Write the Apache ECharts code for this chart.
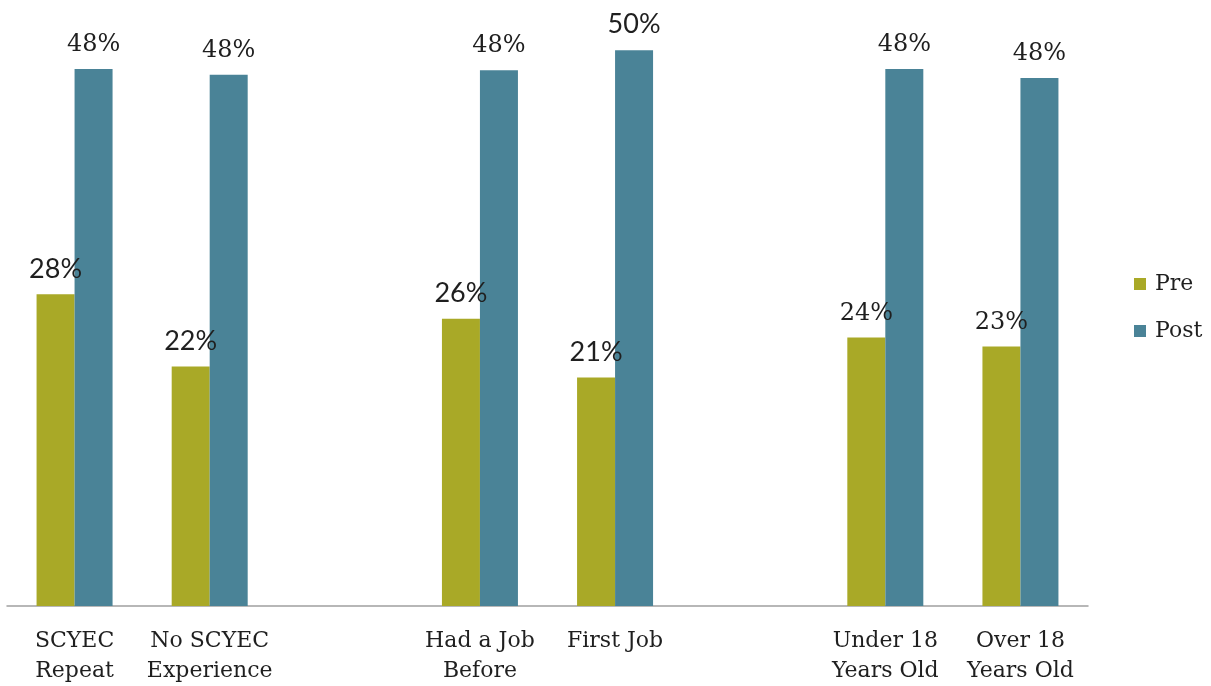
<!DOCTYPE html>
<html>
<head>
<meta charset="utf-8">
<script src="https://cdn.jsdelivr.net/npm/echarts@6/dist/echarts.min.js"></script>
<style>
html,body{margin:0;padding:0;background:#fff;}
#chart{width:1211px;height:686px;}
</style>
</head>
<body>
<div id="chart"></div>
<script>
// Categories (blank slots separate the three groups)
const categories = ['SCYEC\nRepeat', 'No SCYEC\nExperience', '', 'Had a Job\nBefore', 'First Job', '', 'Under 18\nYears Old', 'Over 18\nYears Old'];
const seriesNames = ['Pre', 'Post'];
// Values in percent (null = empty slot)
const preValues  = [28.1, 21.6, null, 25.9, 20.6, null, 24.2, 23.4];
const postValues = [48.4, 47.9, null, 48.3, 50.1, null, 48.4, 47.6];

// label font families per slot (reference mixes a sans and a serif face)
const SERIF = "'DejaVu Serif', serif";
const SANS = "Lato, 'Liberation Sans', sans-serif";
const preLabelSans  = [true, true, false, true, true, false, false, false];
const postLabelSans = [false, false, false, false, true, false, false, false];

function buildData(values, sansFlags) {
  return values.map((v, i) => {
    if (v === null) return '-';
    const sans = sansFlags[i];
    return {
      value: v,
      label: {
        fontFamily: sans ? SANS : SERIF,
        fontSize: sans ? 27 : 24
      }
    };
  });
}

const chart = echarts.init(document.getElementById('chart'), null, {renderer: 'canvas'});
const labelCommon = {
  show: true,
  position: 'top',
  distance: 12,
  color: '#1f1f1f',
  formatter: p => Math.round(p.value) + '%'
};
chart.setOption({
  animation: false,
  backgroundColor: '#ffffff',
  grid: {left: 7, right: 123, top: 7, bottom: 80, containLabel: false},
  legend: {
    data: seriesNames,
    orient: 'vertical',
    left: 1129,
    top: 268,
    icon: 'rect',
    itemWidth: 12,
    itemHeight: 12,
    itemGap: 25,
    textStyle: {fontFamily: SERIF, fontSize: 22, color: '#1f1f1f', lineHeight: 22, padding: [0, 0, 0, 4]}
  },
  xAxis: {
    type: 'category',
    data: categories,
    axisLine: {show: true, lineStyle: {color: '#a0a0a0', width: 1.5}},
    axisTick: {show: false},
    axisLabel: {
      interval: 0,
      margin: 20,
      fontFamily: SERIF,
      fontSize: 22,
      lineHeight: 30,
      color: '#1f1f1f'
    }
  },
  yAxis: {
    type: 'value',
    min: 0,
    max: 54,
    show: false,
    splitLine: {show: false}
  },
  series: [
    {
      name: seriesNames[0],
      type: 'bar',
      data: buildData(preValues, preLabelSans),
      barWidth: 38,
      barGap: '0%',
      itemStyle: {color: '#A9A927'},
      label: labelCommon
    },
    {
      name: seriesNames[1],
      type: 'bar',
      data: buildData(postValues, postLabelSans),
      barWidth: 38,
      barGap: '0%',
      itemStyle: {color: '#4A8397'},
      label: labelCommon
    }
  ]
});
</script>
</body>
</html>
